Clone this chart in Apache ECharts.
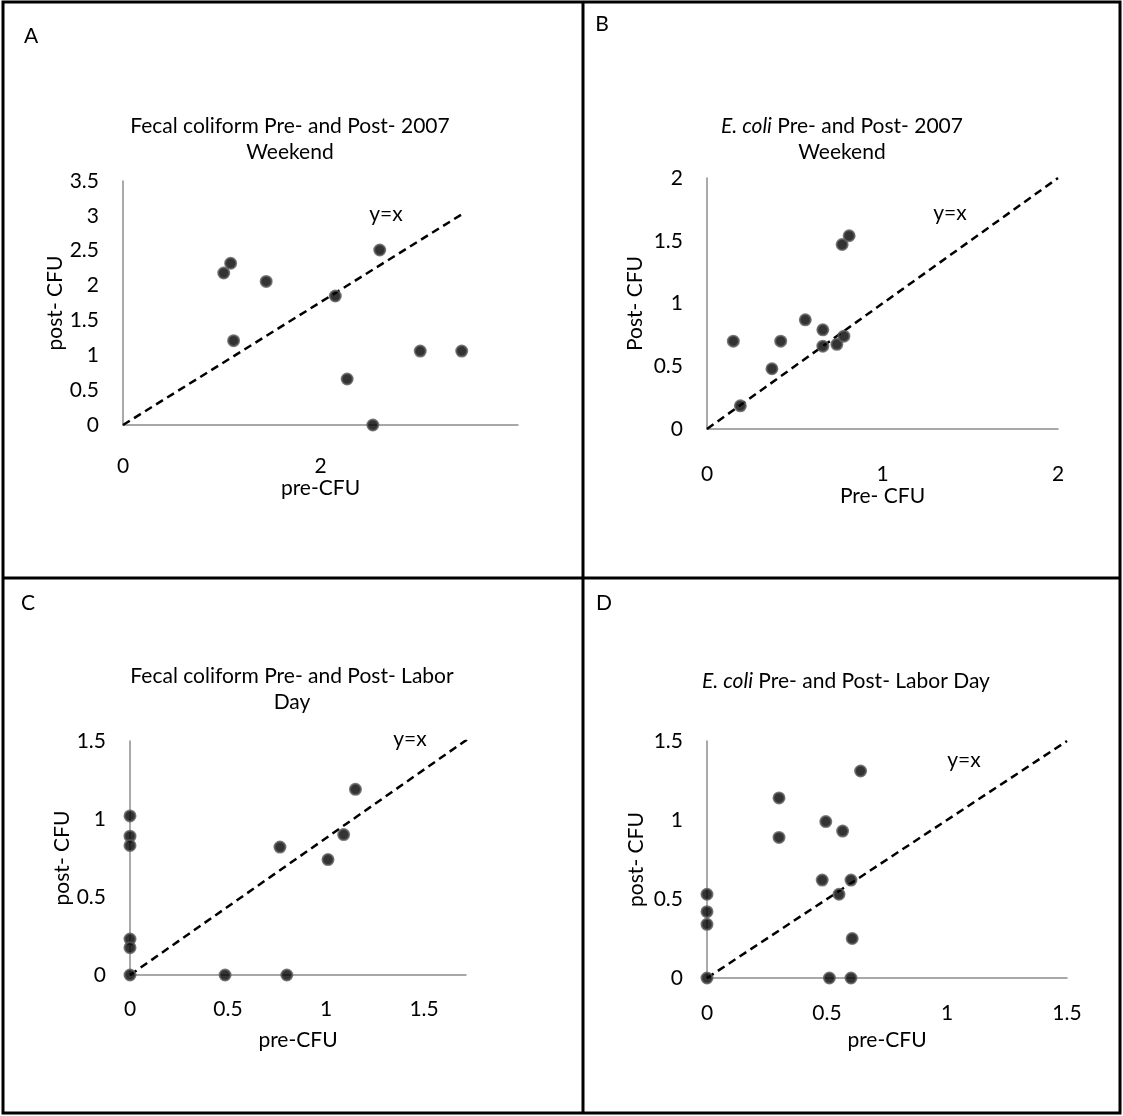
<!DOCTYPE html>
<html>
<head>
<meta charset="utf-8">
<script src="https://cdn.jsdelivr.net/npm/echarts@6/dist/echarts.min.js"></script>
<style>
html, body { margin: 0; padding: 0; background: #fff; }
#main { width: 1123px; height: 1116px; }
</style>
</head>
<body>
<div id="main"></div>
<script>
// A - fecal coliform, 2007 weekend
var aPre  = [1.09, 1.02, 1.45, 2.15, 2.60, 1.12, 3.01, 3.43, 2.27, 2.53];
var aPost = [2.32, 2.18, 2.06, 1.85, 2.51, 1.21, 1.06, 1.06, 0.66, 0.00];
var aLine = [[0, 0], [3.44, 3.03]];

// B - E. coli, 2007 weekend
var bPre  = [0.15, 0.19, 0.37, 0.42, 0.56, 0.66, 0.66, 0.74, 0.78, 0.77, 0.81];
var bPost = [0.70, 0.185, 0.48, 0.70, 0.87, 0.79, 0.66, 0.675, 0.74, 1.47, 1.54];
var bLine = [[0, 0], [2, 2]];

// C - fecal coliform, Labor Day
var cPre  = [0, 0, 0, 0, 0, 0, 0.485, 0.80, 0.765, 1.01, 1.09, 1.15];
var cPost = [1.02, 0.89, 0.83, 0.23, 0.175, 0, 0, 0, 0.82, 0.74, 0.90, 1.19];
var cLine = [[0, 0], [1.72, 1.51]];

// D - E. coli, Labor Day
var dPre  = [0, 0, 0, 0, 0.30, 0.30, 0.495, 0.565, 0.64, 0.48, 0.60, 0.55, 0.605, 0.51, 0.60];
var dPost = [0.53, 0.42, 0.34, 0, 1.14, 0.89, 0.99, 0.93, 1.31, 0.62, 0.62, 0.53, 0.25, 0, 0];
var dLine = [[0, 0], [1.5, 1.5]];

var FONT = 'Lato';
var FS = 21;

function pairs(xs, ys) {
    return xs.map(function (x, i) { return [x, ys[i]]; });
}

function xAx(idx, max, interval, margin, gap, name, hideMax) {
    return {
        type: 'value', gridIndex: idx, min: 0, max: max, interval: interval,
        name: name, nameLocation: 'middle', nameGap: gap,
        nameTextStyle: { fontFamily: FONT, fontSize: FS, color: '#000' },
        axisLine: { show: true, onZero: false, lineStyle: { color: '#8c8c8c', width: 1.5 } },
        axisTick: { show: false },
        splitLine: { show: false },
        axisLabel: { fontFamily: FONT, fontSize: FS, color: '#000', margin: margin, showMaxLabel: !hideMax }
    };
}

function yAx(idx, max, gap, name) {
    return {
        type: 'value', gridIndex: idx, min: 0, max: max, interval: 0.5,
        name: name, nameLocation: 'middle', nameGap: gap,
        nameTextStyle: { fontFamily: FONT, fontSize: FS, color: '#000' },
        axisLine: { show: true, onZero: false, lineStyle: { color: '#8c8c8c', width: 1.5 } },
        axisTick: { show: false },
        splitLine: { show: false },
        axisLabel: { fontFamily: FONT, fontSize: FS, color: '#000', margin: 24 }
    };
}

function dots(idx, xs, ys) {
    return {
        type: 'scatter', xAxisIndex: idx, yAxisIndex: idx, clip: false,
        symbolSize: 11,
        itemStyle: { color: '#000', borderColor: '#5a5a5a', borderWidth: 2 },
        data: pairs(xs, ys), z: 3
    };
}

function refLine(idx, pts) {
    return {
        type: 'line', xAxisIndex: idx, yAxisIndex: idx, symbol: 'none', silent: true,
        lineStyle: { color: '#000', width: 2.5, type: [8, 5] },
        data: pts, z: 2
    };
}

function txt(x, y, text, extra) {
    var style = { text: text, x: 0, y: 0, fill: '#000', fontFamily: FONT, fontSize: FS,
        align: 'center', verticalAlign: 'middle', lineHeight: 26,
        rich: { i: { fontStyle: 'italic', fontFamily: FONT, fontSize: FS, fill: '#000' } } };
    for (var k in extra) style[k] = extra[k];
    return { type: 'text', x: x, y: y, style: style, z: 10 };
}

var chart = echarts.init(document.getElementById('main'));

var option = {
    animation: false,
    backgroundColor: '#fff',
    grid: [
        { left: 123, top: 181, width: 395, height: 244 },
        { left: 707, top: 178, width: 351, height: 251 },
        { left: 130, top: 741, width: 336, height: 234 },
        { left: 707, top: 741, width: 360, height: 237 }
    ],
    xAxis: [
        xAx(0, 4, 2, 31, 44, 'pre-CFU', true),
        xAx(1, 2, 1, 35, 52, 'Pre- CFU'),
        xAx(2, 1.714, 0.5, 24, 55, 'pre-CFU', true),
        xAx(3, 1.5, 0.5, 25, 52, 'pre-CFU')
    ],
    yAxis: [
        yAx(0, 3.5, 47, 'post- CFU'),
        yAx(1, 2, 61, 'Post- CFU'),
        yAx(2, 1.5, 52, 'post- CFU'),
        yAx(3, 1.5, 60, 'post- CFU')
    ],
    series: [
        refLine(0, aLine), dots(0, aPre, aPost),
        refLine(1, bLine), dots(1, bPre, bPost),
        refLine(2, cLine), dots(2, cPre, cPost),
        refLine(3, dLine), dots(3, dPre, dPost)
    ],
    graphic: [
        // table frame
        { type: 'rect', shape: { x: 3, y: 2, width: 1117, height: 1111 },
          style: { fill: 'none', stroke: '#000', lineWidth: 3 }, z: 20 },
        { type: 'line', shape: { x1: 583, y1: 2, x2: 583, y2: 1113 },
          style: { stroke: '#000', lineWidth: 3 }, z: 20 },
        { type: 'line', shape: { x1: 3, y1: 578, x2: 1120, y2: 578 },
          style: { stroke: '#000', lineWidth: 3 }, z: 20 },
        // panel letters
        txt(31, 36, 'A'), txt(602, 24, 'B'), txt(28, 603, 'C'), txt(604, 603, 'D'),
        // titles
        txt(290, 139, 'Fecal coliform Pre- and Post- 2007\nWeekend'),
        txt(842, 139, '{i|E. coli} Pre- and Post- 2007\nWeekend'),
        txt(292, 689, 'Fecal coliform Pre- and Post- Labor\nDay'),
        txt(846, 681, '{i|E. coli} Pre- and Post- Labor Day'),
        // y=x labels
        txt(386, 214, 'y=x'), txt(950, 213, 'y=x'),
        txt(410, 739, 'y=x'), txt(964, 760, 'y=x')
    ]
};

chart.setOption(option);
</script>
</body>
</html>
